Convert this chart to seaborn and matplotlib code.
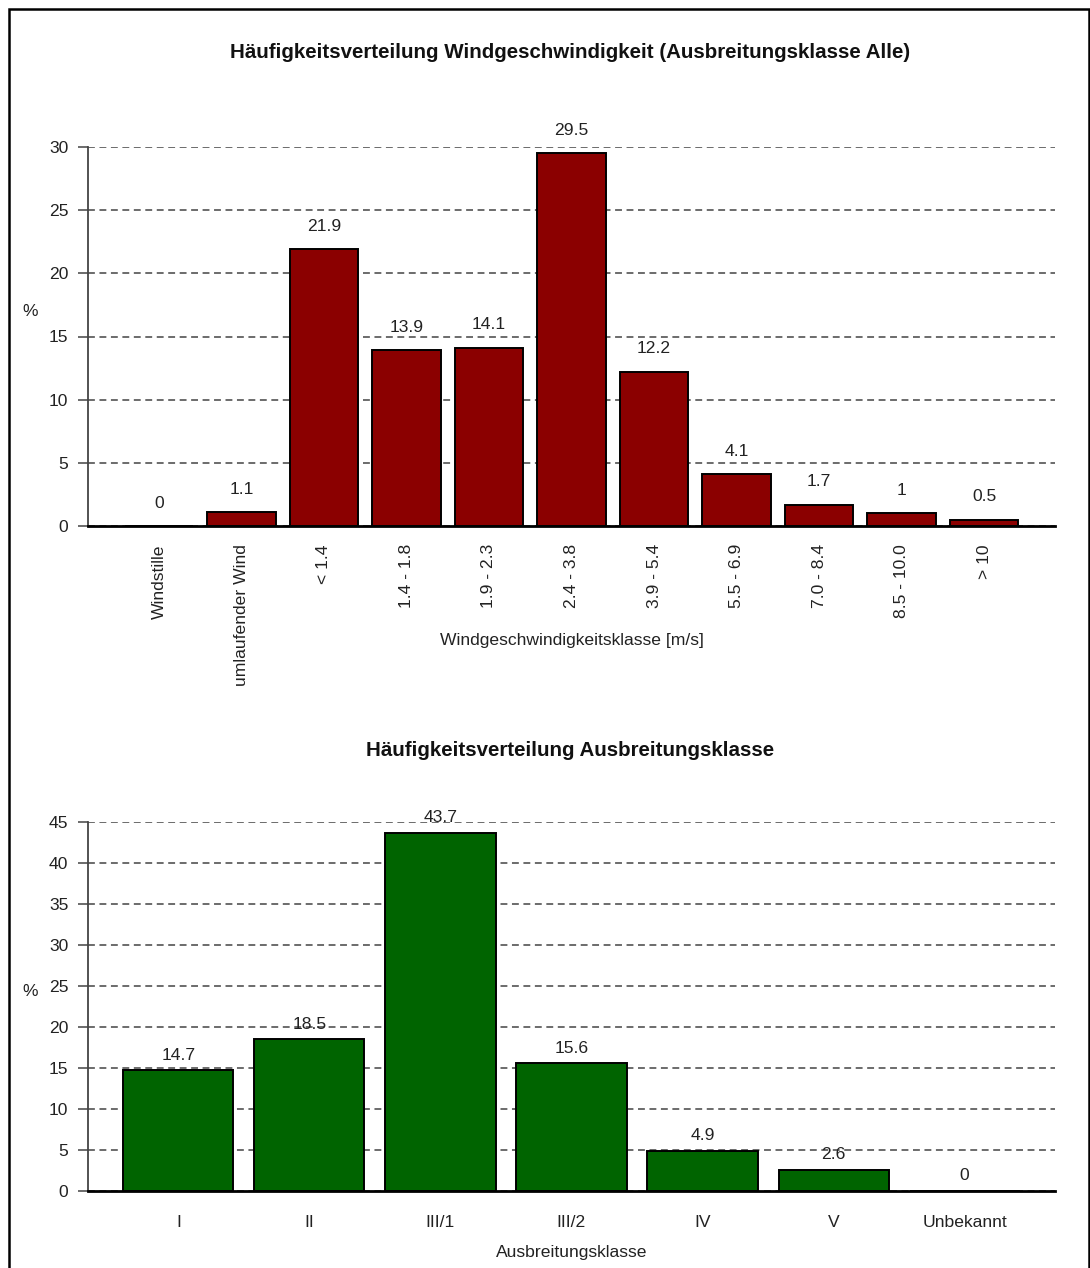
"""
Wind speed and stability class frequency distributions (two bar charts).
"""

import matplotlib

matplotlib.use("Agg")
import matplotlib.pyplot as plt
import pandas as pd
import seaborn as sns
from matplotlib.patches import Rectangle

# --- data -----------------------------------------------------------------
wind_classes = [
    "Windstille",
    "umlaufender Wind",
    "< 1.4",
    "1.4 - 1.8",
    "1.9 - 2.3",
    "2.4 - 3.8",
    "3.9 - 5.4",
    "5.5 - 6.9",
    "7.0 - 8.4",
    "8.5 - 10.0",
    "> 10",
]
wind_share = [0, 1.1, 21.9, 13.9, 14.1, 29.5, 12.2, 4.1, 1.7, 1, 0.5]
wind_labels = ["0", "1.1", "21.9", "13.9", "14.1", "29.5", "12.2", "4.1", "1.7", "1", "0.5"]

stab_classes = ["I", "II", "III/1", "III/2", "IV", "V", "Unbekannt"]
stab_share = [14.7, 18.5, 43.7, 15.6, 4.9, 2.6, 0]
stab_labels = ["14.7", "18.5", "43.7", "15.6", "4.9", "2.6", "0"]

W, H = 1090, 1268
DPI = 100
FS = 12.6
FS_TITLE = 14.8

sns.set_theme(style="white")
plt.rcParams["font.family"] = ["Liberation Sans", "DejaVu Sans"]
TEXT = "#222222"
AXC = "#444444"


def style_axes(ax, ymax, ystep):
    ax.set_ylim(0, ymax)
    ax.set_yticks(range(0, ymax + 1, ystep))
    ax.yaxis.grid(True, linestyle=(0, (4.5, 3)), color=AXC, linewidth=1.1)
    ax.xaxis.grid(False)
    ax.set_axisbelow(True)
    for side in ("top", "right"):
        ax.spines[side].set_visible(False)
    ax.spines["left"].set_color(AXC)
    ax.spines["left"].set_linewidth(1.3)
    ax.spines["bottom"].set_color("black")
    ax.spines["bottom"].set_linewidth(2.0)
    ax.spines["bottom"].set_zorder(5)
    ax.tick_params(axis="y", length=7.2, width=1.1, color=AXC, pad=7,
                   labelsize=FS, labelcolor=TEXT, left=True)
    ax.tick_params(axis="x", length=0, labelsize=FS, labelcolor=TEXT)
    ax.set_ylabel("%", rotation=0, fontsize=FS, color=TEXT)


def annotate_bars(ax, values, labels, offset_px):
    for i, (v, lab) in enumerate(zip(values, labels)):
        ax.annotate(lab, xy=(i, v), xytext=(0, offset_px), textcoords="offset pixels",
                    ha="center", va="center", fontsize=FS, color=TEXT)


fig = plt.figure(figsize=(W / DPI, H / DPI), dpi=DPI)

# --- top chart: wind speed classes ----------------------------------------
ax1 = fig.add_axes([88 / W, 1 - 526 / H, (1055 - 88) / W, (526 - 147) / H])
wind_df = pd.DataFrame({"klasse": wind_classes, "anteil": wind_share})
sns.barplot(data=wind_df, x="klasse", y="anteil", order=wind_classes, color="#8b0000",
            saturation=1, width=0.83, edgecolor="black", linewidth=1.4, ax=ax1)
style_axes(ax1, 30, 5)
ax1.set_xlim(-0.86, len(wind_classes) - 0.14)
ax1.tick_params(axis="x", pad=13)
for lab in ax1.get_xticklabels():
    lab.set_rotation(90)
    lab.set_va("top")
    lab.set_ha("center")
annotate_bars(ax1, wind_share, wind_labels, 23)
ax1.set_xlabel("Windgeschwindigkeitsklasse [m/s]", fontsize=FS, color=TEXT)
ax1.xaxis.set_label_coords(0.5, (526 - 640) / (526 - 147))
ax1.xaxis.label.set_va("center")
ax1.yaxis.set_label_coords((30 - 88) / (1055 - 88), (526 - 311) / (526 - 147))
ax1.yaxis.label.set_va("center")

fig.text(570 / W, 1 - 52 / H, "Häufigkeitsverteilung Windgeschwindigkeit (Ausbreitungsklasse Alle)",
         ha="center", va="center", fontsize=FS_TITLE, fontweight="bold", color="#111111")

# --- bottom chart: stability classes --------------------------------------
ax2 = fig.add_axes([88 / W, 1 - 1191 / H, (1055 - 88) / W, (1191 - 822) / H])
stab_df = pd.DataFrame({"klasse": stab_classes, "anteil": stab_share})
sns.barplot(data=stab_df, x="klasse", y="anteil", order=stab_classes, color="#006400",
            saturation=1, width=0.84, edgecolor="black", linewidth=1.4, ax=ax2)
style_axes(ax2, 45, 5)
ax2.set_xlim(-0.69, len(stab_classes) - 0.31)
ax2.tick_params(axis="x", pad=17)
annotate_bars(ax2, stab_share, stab_labels, 15)
ax2.set_xlabel("Ausbreitungsklasse", fontsize=FS, color=TEXT)
ax2.xaxis.set_label_coords(0.5, (1191 - 1252) / (1191 - 822))
ax2.xaxis.label.set_va("center")
ax2.yaxis.set_label_coords((30 - 88) / (1055 - 88), (1191 - 992) / (1191 - 822))
ax2.yaxis.label.set_va("center")

fig.text(570 / W, 1 - 751 / H, "Häufigkeitsverteilung Ausbreitungsklasse",
         ha="center", va="center", fontsize=FS_TITLE, fontweight="bold", color="#111111")

# outer frame (runs off the bottom edge like the source image)
fig.add_artist(Rectangle((9 / W, -0.02), (1089 - 9) / W, 1 - 9 / H + 0.02,
                         transform=fig.transFigure, fill=False, edgecolor="black",
                         linewidth=1.8))

fig.savefig("out.png", dpi=DPI)
plt.close(fig)
